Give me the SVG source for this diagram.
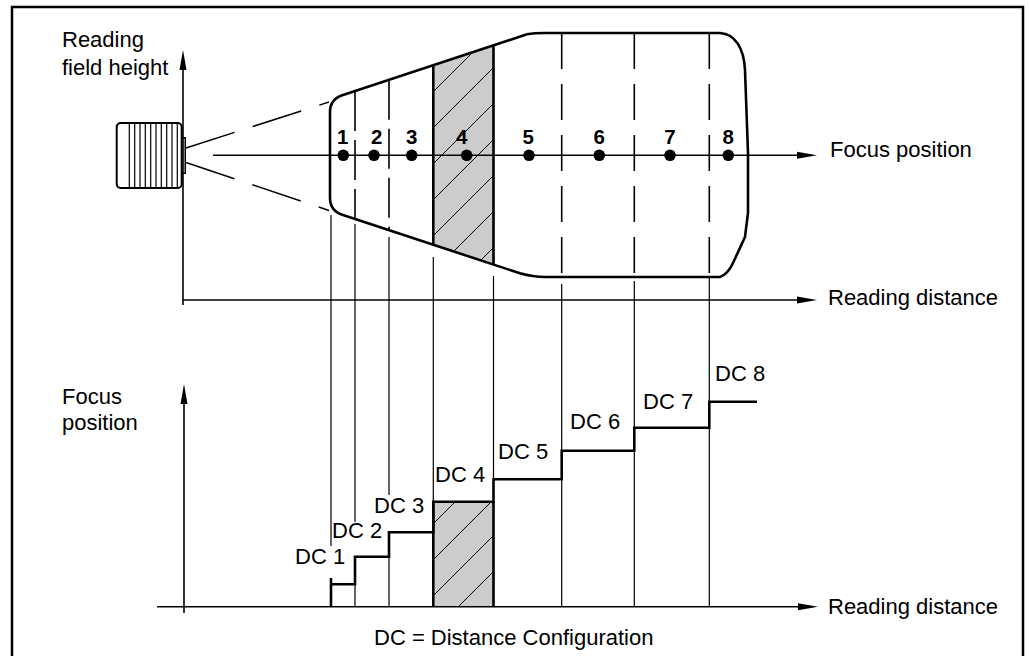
<svg xmlns="http://www.w3.org/2000/svg" width="1029" height="656" viewBox="0 0 1029 656">
<style>
text{font-family:"Liberation Sans",Arial,sans-serif;font-size:22px;fill:#000}
.num{font-weight:bold;font-size:20.5px;text-anchor:middle}
.thin{stroke:#000;stroke-width:1.2;fill:none}
.axis{stroke:#000;stroke-width:1.6;fill:none}
.thick{stroke:#000;stroke-width:2.6;fill:none}
.dashR{stroke:#000;stroke-width:1.6;stroke-dasharray:36 15;fill:none}
.dashL{stroke:#000;stroke-width:1.6;stroke-dasharray:40 9;fill:none}
.beam{stroke:#000;stroke-width:1.5;stroke-dasharray:51 19;fill:none}
.head{fill:#000}
</style>
<defs>
<pattern id="hatch" patternUnits="userSpaceOnUse" x="21" y="0" width="36" height="36">
<rect width="36" height="36" fill="#cccccc"/>
<path d="M-9,9 L9,-9 M0,36 L36,0 M27,45 L45,27" stroke="#000" stroke-width="1"/>
</pattern>
</defs>
<rect x="0" y="0" width="1029" height="656" fill="#fff"/>
<rect id="frame" x="12" y="7" width="1011" height="670" fill="none" stroke="#000" stroke-width="2.5"/>

<g id="camera">
<rect x="116.7" y="123" width="65" height="65" rx="4" fill="#fff" stroke="#000" stroke-width="2"/>
<path class="thin" d="M129.3,123V188M134.7,123V188M140,123V188M145.3,123V188M150.7,123V188M156,123V188M161.3,123V188M166.7,123V188M172,123V188M177.3,123V188"/>
<rect x="181.7" y="137.7" width="3.6" height="35.6" fill="#ccc" stroke="#000" stroke-width="1.4"/>
</g>

<g id="beam">
<line class="beam" x1="186" y1="148" x2="329" y2="102"/>
<line class="beam" x1="186" y1="162.5" x2="329" y2="210.5"/>
</g>

<g id="reading-field">
<polygon points="433.3,65.1 493.5,45.1 493.5,264.6 433.3,244.8" fill="url(#hatch)"/>
<path class="thick" d="M433.3,65.1V244.8M493.5,45.1V264.6"/>
<path class="dashL" d="M355,91V219M389,79.8V230.2"/>
<path class="dashR" d="M561.7,33V277M634.3,33V277M709.3,33V277"/>
<path class="thick" d="M343,95 L527,34.3 Q534,33 545,33 L720,33 C735,34 744,48 745,70 L748,153 L748,213 L745,237 L733,263 Q728,274 720,277 L545,277 Q533,277 520,273.3 L343,215 Q330,211 330,198 L330,112 Q330,99 343,95 Z"/>
</g>

<g id="upper-axes">
<line class="axis" x1="183" y1="68" x2="183" y2="305"/>
<polygon class="head" points="183,50 179.5,70 186.5,70"/>
<line class="axis" x1="183" y1="300" x2="800" y2="300"/>
<polygon class="head" points="817,300 797,296.5 797,303.5"/>
<line class="axis" x1="213" y1="155.3" x2="800" y2="155.3"/>
<polygon class="head" points="817,155.3 797,151.8 797,158.8"/>
</g>

<g id="focus-points">
<circle cx="343.3" cy="155.3" r="5.8"/>
<circle cx="374" cy="155.3" r="5.8"/>
<circle cx="411.7" cy="155.3" r="5.8"/>
<circle cx="466.7" cy="155.3" r="5.8"/>
<circle cx="529" cy="155.3" r="5.8"/>
<circle cx="599.3" cy="155.3" r="5.8"/>
<circle cx="670" cy="155.3" r="5.8"/>
<circle cx="728.3" cy="155.3" r="5.8"/>
<text class="num" x="342.7" y="144">1</text>
<text class="num" x="376.7" y="144">2</text>
<text class="num" x="411.7" y="144">3</text>
<text class="num" x="461.7" y="144">4</text>
<text class="num" x="528.3" y="144">5</text>
<text class="num" x="599.3" y="144">6</text>
<text class="num" x="670" y="144">7</text>
<text class="num" x="728.3" y="144">8</text>
</g>

<g id="connectors">
<path class="thin" d="M331,215V546M355,224V522M355,584V606.5M389,237V495M389,557V606.5M433.3,257V501.7M493.5,276V479.3M561.7,284V606.5M634.3,281V606.5M709.3,277V606.5"/>
</g>

<g id="lower-chart">
<rect x="433.3" y="501.7" width="60.2" height="104.8" fill="url(#hatch)"/>
<path class="thick" d="M433.3,501.7V606.5M493.5,501.7V606.5"/>
<path class="thick" d="M331,578V606.5"/>
<path class="thick" d="M331,584.3H355V556.7H389V532.3H433.3V501.7H493.5V479.3H561.7V450.7H634.3V427.7H709.3V401.7H757"/>
<line class="axis" x1="184" y1="402" x2="184" y2="613"/>
<polygon class="head" points="184,384 180.5,404 187.5,404"/>
<line class="axis" x1="157" y1="606.8" x2="800" y2="606.8"/>
<polygon class="head" points="818,606.8 798,603.3 798,610.3"/>
</g>

<g id="labels">
<text x="62" y="47">Reading</text>
<text x="62" y="75">field height</text>
<text x="830" y="157">Focus position</text>
<text x="828" y="305">Reading distance</text>
<text x="62" y="404">Focus</text>
<text x="62" y="430">position</text>
<text x="828" y="614">Reading distance</text>
<text x="374" y="645">DC = Distance Configuration</text>
<text x="295" y="564">DC 1</text>
<text x="332" y="538">DC 2</text>
<text x="374" y="513">DC 3</text>
<text x="435" y="482">DC 4</text>
<text x="498" y="459">DC 5</text>
<text x="570" y="429">DC 6</text>
<text x="643" y="409">DC 7</text>
<text x="715" y="381">DC 8</text>
</g>
</svg>
